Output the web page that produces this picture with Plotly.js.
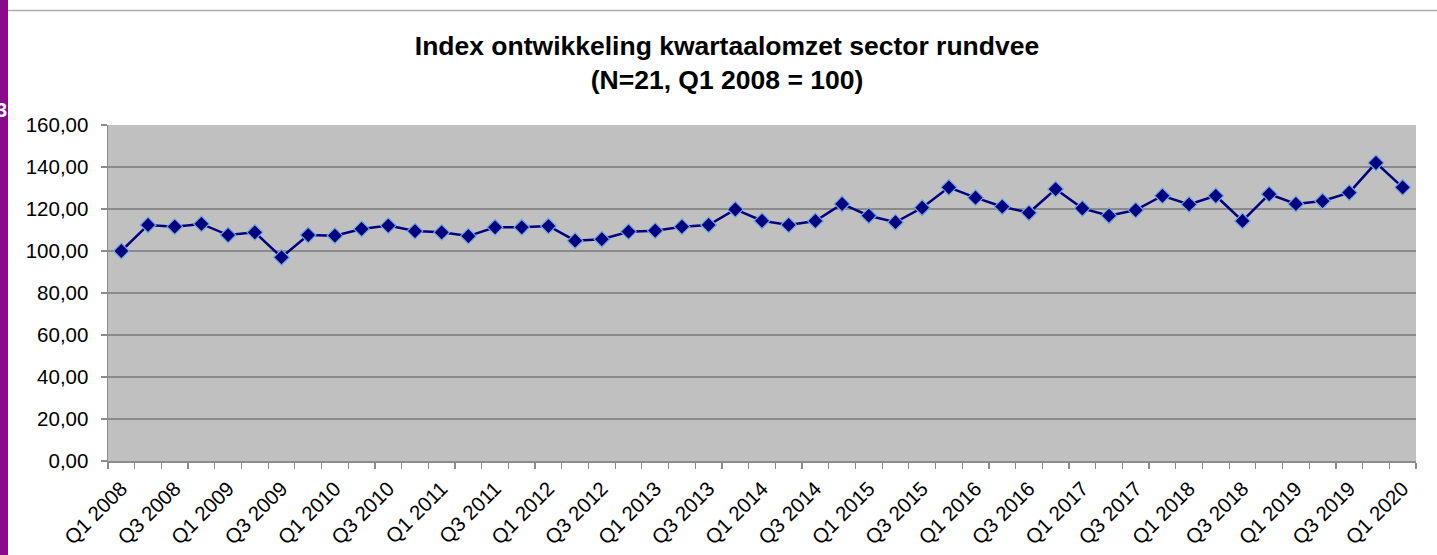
<!DOCTYPE html>
<html>
<head>
<meta charset="utf-8">
<script src="https://cdn.plot.ly/plotly-3.0.1.min.js"></script>
<style>
  html, body { margin: 0; padding: 0; background: #ffffff; }
  #chart { width: 1437px; height: 555px; }
</style>
</head>
<body>
<div id="chart"></div>
<script>
// ---- Data ----
const quarters = [
  "Q1 2008","Q2 2008","Q3 2008","Q4 2008",
  "Q1 2009","Q2 2009","Q3 2009","Q4 2009",
  "Q1 2010","Q2 2010","Q3 2010","Q4 2010",
  "Q1 2011","Q2 2011","Q3 2011","Q4 2011",
  "Q1 2012","Q2 2012","Q3 2012","Q4 2012",
  "Q1 2013","Q2 2013","Q3 2013","Q4 2013",
  "Q1 2014","Q2 2014","Q3 2014","Q4 2014",
  "Q1 2015","Q2 2015","Q3 2015","Q4 2015",
  "Q1 2016","Q2 2016","Q3 2016","Q4 2016",
  "Q1 2017","Q2 2017","Q3 2017","Q4 2017",
  "Q1 2018","Q2 2018","Q3 2018","Q4 2018",
  "Q1 2019","Q2 2019","Q3 2019","Q4 2019",
  "Q1 2020"
];

const indexValues = [
  100.0, 112.4, 111.6, 112.9,
  107.6, 108.9,  97.0, 107.6,
  107.3, 110.5, 112.1, 109.5,
  108.9, 107.1, 111.3, 111.3,
  111.9, 104.9, 105.6, 109.2,
  109.7, 111.6, 112.4, 119.8,
  114.4, 112.4, 114.3, 122.4,
  116.8, 113.7, 120.6, 130.3,
  125.4, 121.1, 118.2, 129.5,
  120.3, 116.8, 119.5, 126.3,
  122.2, 126.3, 114.3, 127.1,
  122.4, 123.8, 127.8, 142.0,
  130.3
];

const tickLabels = [
  "Q1 2008","Q3 2008","Q1 2009","Q3 2009","Q1 2010","Q3 2010",
  "Q1 2011","Q3 2011","Q1 2012","Q3 2012","Q1 2013","Q3 2013",
  "Q1 2014","Q3 2014","Q1 2015","Q3 2015","Q1 2016","Q3 2016",
  "Q1 2017","Q3 2017","Q1 2018","Q3 2018","Q1 2019","Q3 2019",
  "Q1 2020"
];

const titleText = "Index ontwikkeling kwartaalomzet sector rundvee<br>(N=21, Q1 2008 = 100)";

// ---- Build ----
const xIdx = quarters.map((q, i) => i);
const tickVals = tickLabels.map(t => quarters.indexOf(t));

const W = 1437, H = 555;
const mL = 108, mR = 21, mT = 125, mB = 94;
const plotW = W - mL - mR;
const px2paperX = px => (px - mL) / plotW;
const plotH = H - mT - mB;
const py2paperY = py => 1 - (py - mT) / plotH;

const trace = {
  x: xIdx,
  y: indexValues,
  type: 'scatter',
  mode: 'lines+markers',
  line: { color: '#000080', width: 2.5 },
  marker: {
    symbol: 'diamond',
    size: 12,
    color: '#000080',
    line: { color: '#6fa8dc', width: 1.2 }
  },
  hoverinfo: 'x+y',
  showlegend: false
};

const layout = {
  width: W,
  height: H,
  margin: { l: mL, r: mR, t: mT, b: mB, pad: 0 },
  paper_bgcolor: '#ffffff',
  plot_bgcolor: '#c0c0c0',
  separators: ',.',
  font: { family: 'Liberation Sans, Arial, sans-serif', color: '#000000', size: 18 },
  title: {
    text: titleText,
    font: { family: 'Liberation Sans, Arial, sans-serif', size: 26.5, color: '#000000', weight: 'bold' },
    x: 727 / W,
    xref: 'container',
    xanchor: 'center',
    y: 1 - 55 / H,
    yref: 'container',
    yanchor: 'top'
  },
  xaxis: {
    type: 'linear',
    range: [-0.5, quarters.length - 0.5],
    tickmode: 'array',
    tickvals: tickVals,
    ticktext: tickLabels,
    tickangle: -45,
    ticks: 'outside',
    ticklen: 6,
    tickcolor: 'rgba(0,0,0,0)',
    tickfont: { family: 'Liberation Sans, Arial, sans-serif', size: 20.5, color: '#000000' },
    showgrid: false,
    zeroline: false,
    showline: true,
    linecolor: '#8c8c8c',
    linewidth: 1.5,
    minor: {
      tick0: -0.5,
      dtick: 1,
      ticks: 'outside',
      ticklen: 6,
      tickwidth: 1.2,
      tickcolor: '#8c8c8c',
      showgrid: false
    },
    fixedrange: true
  },
  yaxis: {
    range: [0, 160],
    tick0: 0,
    dtick: 20,
    tickformat: '.2f',
    ticks: 'outside',
    ticklen: 6,
    tickwidth: 1.2,
    tickcolor: '#8c8c8c',
    ticklabelstandoff: 8,
    tickfont: { family: 'Liberation Sans, Arial, sans-serif', size: 20.5, color: '#000000' },
    showgrid: true,
    gridcolor: '#8a8a8a',
    gridwidth: 1.5,
    zeroline: false,
    showline: true,
    linecolor: '#8c8c8c',
    linewidth: 1.5,
    fixedrange: true
  },
  shapes: [
    // purple slide edge on the left
    { type: 'rect', xref: 'paper', yref: 'paper',
      x0: px2paperX(0), x1: px2paperX(8), y0: py2paperY(H), y1: py2paperY(0),
      fillcolor: '#8b0a8b', line: { width: 0 }, layer: 'below' },
    // thin gray frame line at top
    { type: 'line', xref: 'paper', yref: 'paper',
      x0: px2paperX(8), x1: px2paperX(W), y0: py2paperY(10.5), y1: py2paperY(10.5),
      line: { color: '#aaaaaa', width: 1.5 } }
  ],
  annotations: [
    { text: '<b>3</b>', xref: 'paper', yref: 'paper',
      x: px2paperX(-6), y: py2paperY(110), xanchor: 'left', yanchor: 'middle',
      showarrow: false, font: { family: 'Liberation Sans, Arial, sans-serif', size: 20, color: '#ffffff' } }
  ]
};

Plotly.newPlot('chart', [trace], layout, { displayModeBar: false, staticPlot: true });
</script>
</body>
</html>
